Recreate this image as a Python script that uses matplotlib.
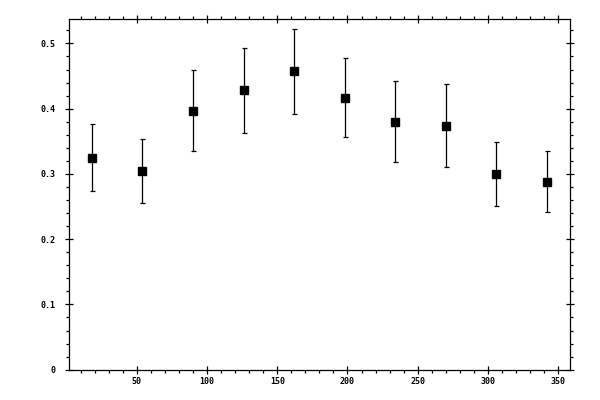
import numpy as np
import matplotlib
matplotlib.use("Agg")
import matplotlib.pyplot as plt
from matplotlib.ticker import MultipleLocator

# data
x = [18, 54, 90, 126, 162, 198, 234, 270, 306, 342]
y = [0.325, 0.305, 0.397, 0.428, 0.457, 0.417, 0.380, 0.374, 0.300, 0.288]
err = [0.051, 0.049, 0.062, 0.065, 0.065, 0.060, 0.062, 0.064, 0.049, 0.047]

xticks = [50, 100, 150, 200, 250, 300, 350]
yticks = [0, 0.1, 0.2, 0.3, 0.4, 0.5]
ytick_labels = ['0', '0.1', '0.2', '0.3', '0.4', '0.5']

fig = plt.figure(figsize=(6, 4), dpi=100)
ax = fig.add_axes([0.1158, 0.0758, 0.8342, 0.876])

ax.errorbar(x, y, yerr=err, fmt='s', color='black', ms=5.5,
            elinewidth=0.9, capsize=1.8, capthick=0.9, mec='black')

ax.set_xlim(2, 358.5)
ax.set_ylim(0, 0.537)

ax.set_xticks(xticks)
ax.set_yticks(yticks)
ax.set_yticklabels(ytick_labels)
ax.xaxis.set_minor_locator(MultipleLocator(10))
ax.yaxis.set_minor_locator(MultipleLocator(0.02))

ax.tick_params(which='both', top=True, right=True, labelsize=6, width=0.9)
ax.tick_params(which='major', direction='inout', length=6)
ax.tick_params(which='minor', direction='out', length=2.5)
ax.tick_params(axis='y', which='major', pad=7)
ax.tick_params(axis='x', which='major', pad=2)

for lab in ax.get_xticklabels() + ax.get_yticklabels():
    lab.set_family('DejaVu Sans Mono')
    lab.set_weight('bold')

for s in ax.spines.values():
    s.set_linewidth(0.9)

fig.savefig('out.png', dpi=100)
